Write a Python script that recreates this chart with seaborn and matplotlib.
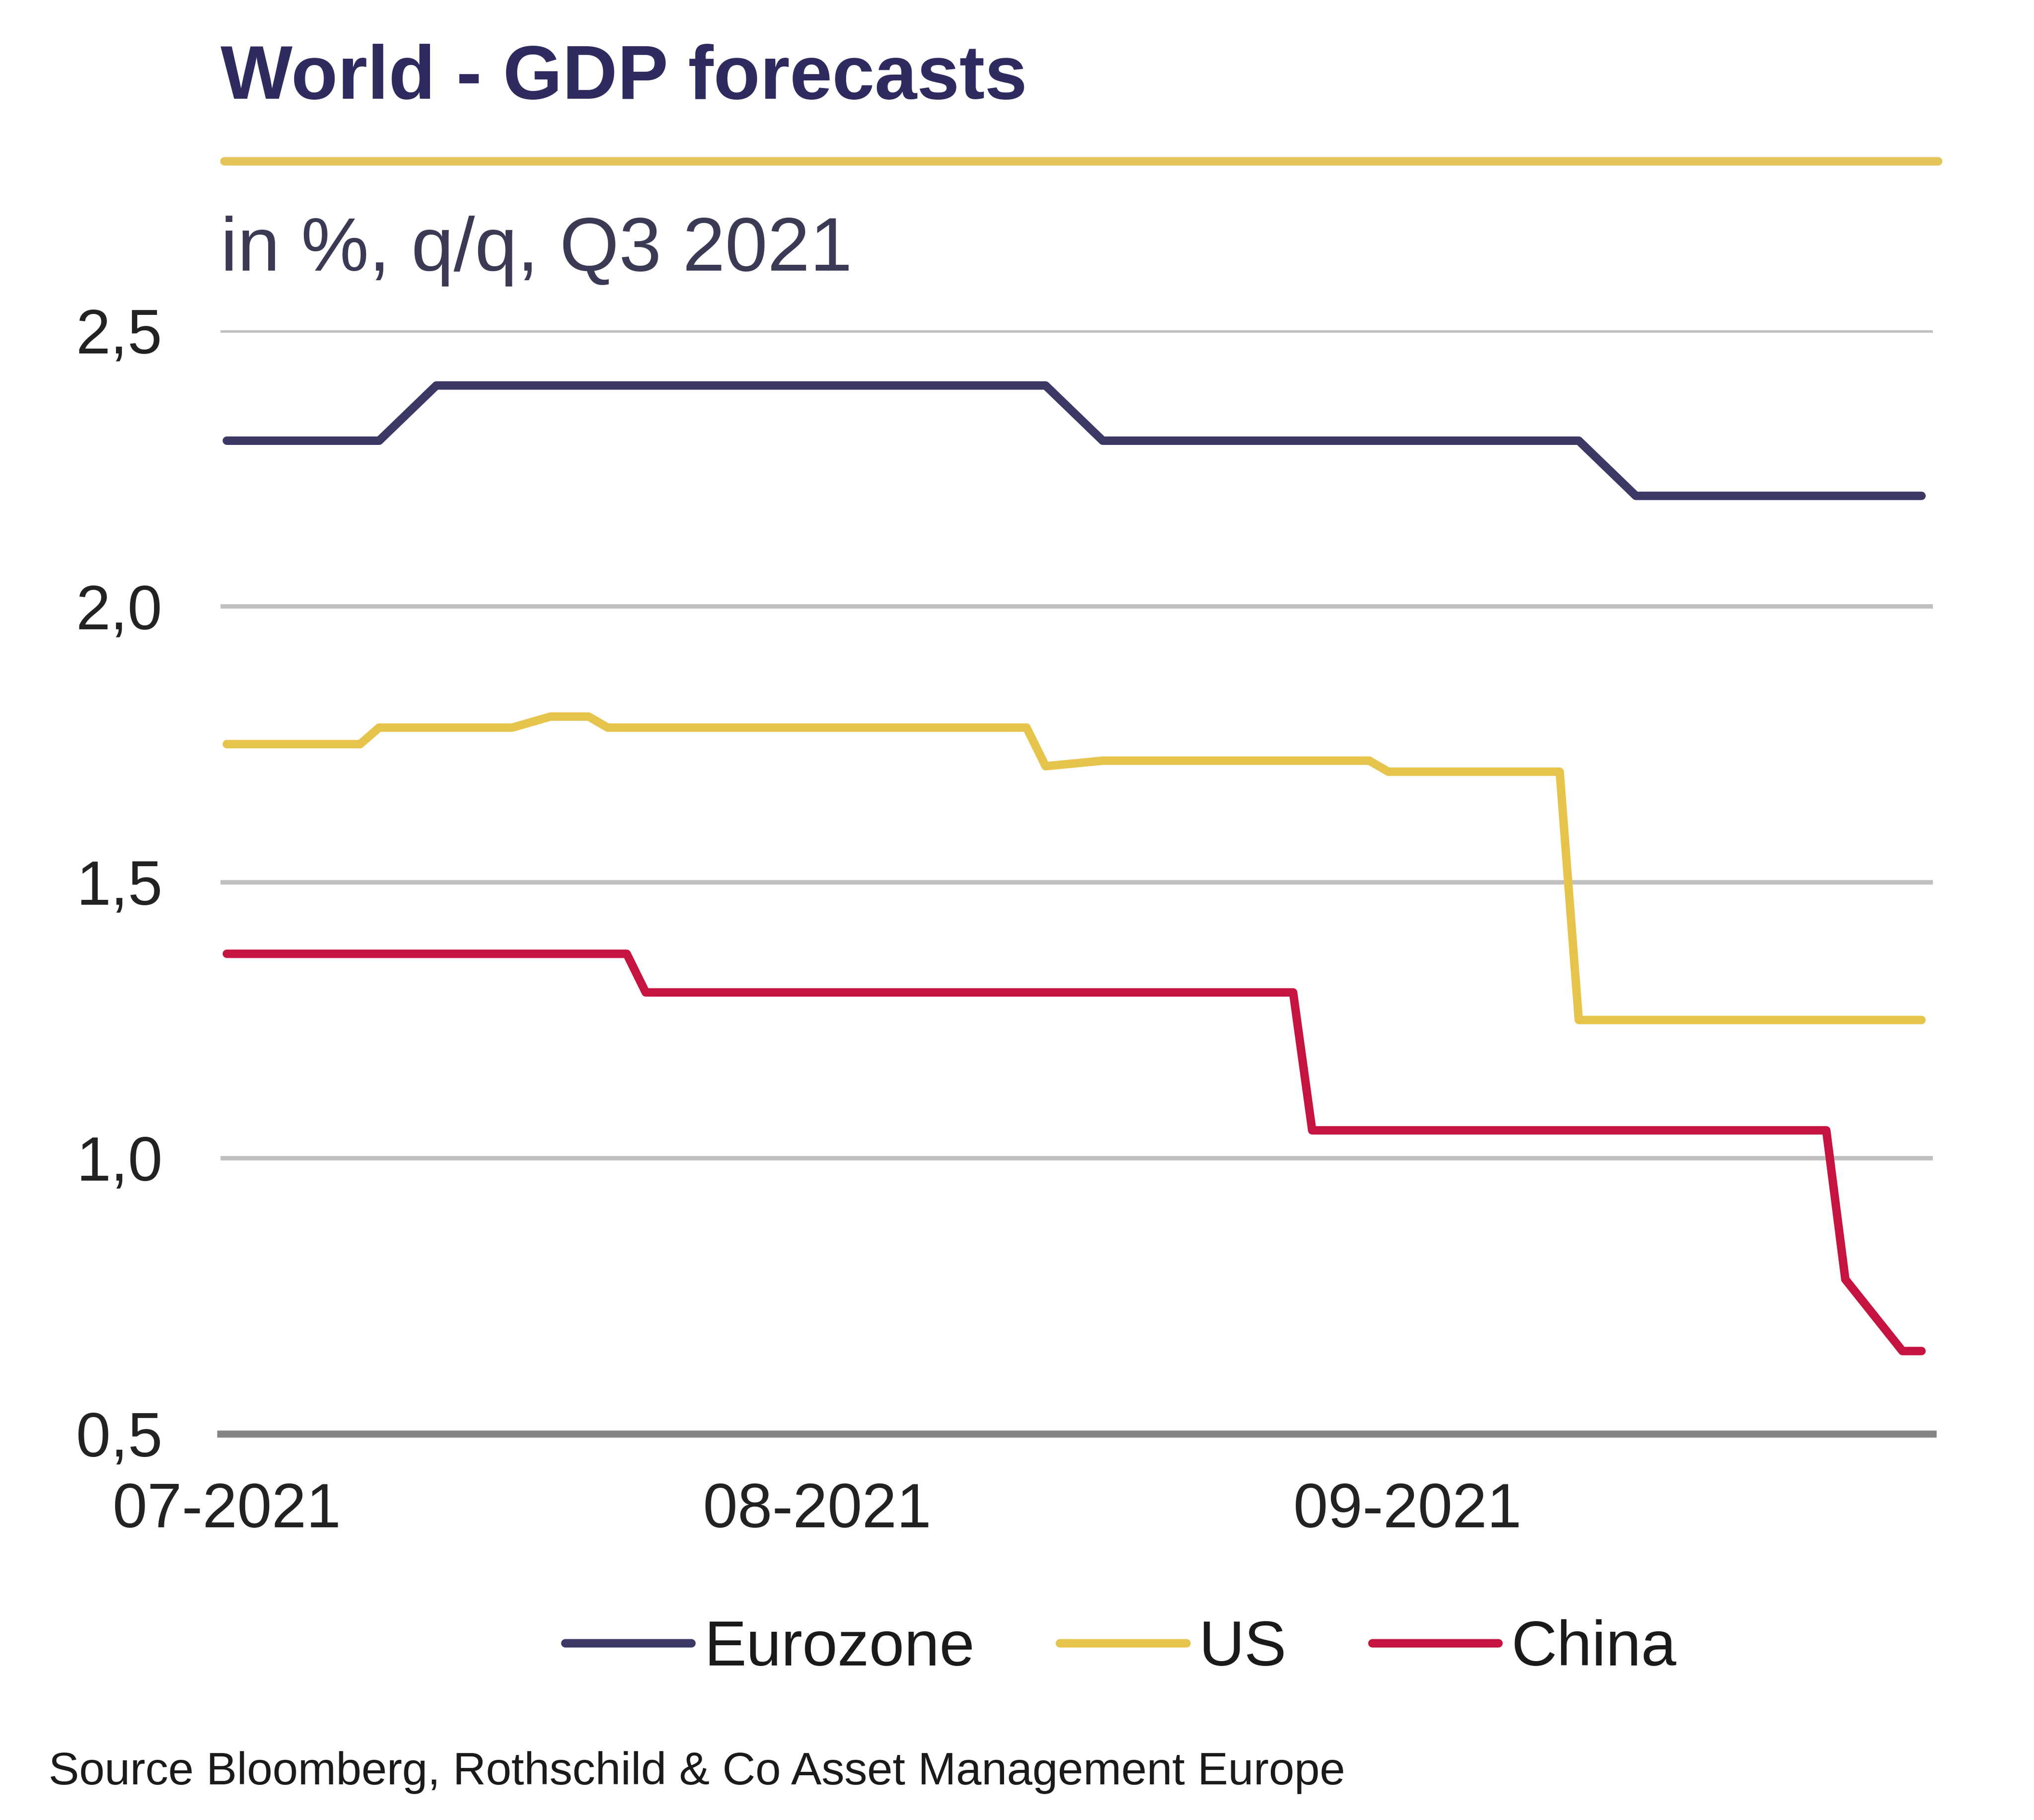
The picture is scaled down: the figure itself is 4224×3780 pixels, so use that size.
import matplotlib
matplotlib.use("Agg")
import matplotlib.pyplot as plt
import matplotlib.dates as mdates
from matplotlib.lines import Line2D
from matplotlib.ticker import FuncFormatter
import pandas as pd
import seaborn as sns

# breakpoints (value changes between them are straight lines)
eurozone_dates = ['2021-07-01', '2021-07-09', '2021-07-12', '2021-08-13', '2021-08-16',
                  '2021-09-10', '2021-09-13', '2021-09-28']
eurozone_values = [2.30, 2.30, 2.40, 2.40, 2.30, 2.30, 2.20, 2.20]

us_dates = ['2021-07-01', '2021-07-08', '2021-07-09', '2021-07-16', '2021-07-17', '2021-07-18',
            '2021-07-20', '2021-07-21', '2021-08-12', '2021-08-13', '2021-08-16', '2021-08-30',
            '2021-08-31', '2021-09-09', '2021-09-10', '2021-09-28']
us_values = [1.75, 1.75, 1.78, 1.78, 1.79, 1.80, 1.80, 1.78, 1.78, 1.71, 1.72, 1.72,
             1.70, 1.70, 1.25, 1.25]

china_dates = ['2021-07-01', '2021-07-22', '2021-07-23', '2021-08-26', '2021-08-27',
               '2021-09-23', '2021-09-24', '2021-09-27', '2021-09-28']
china_values = [1.37, 1.37, 1.30, 1.30, 1.05, 1.05, 0.78, 0.65, 0.65]

series_names = ['Eurozone', 'US', 'China']
colors = {'Eurozone': '#3b3866', 'US': '#e6c44c', 'China': '#c4143f'}

y_ticks = [0.5, 1.0, 1.5, 2.0, 2.5]
x_ticks = ['2021-07-01', '2021-08-01', '2021-09-01']

frames = []
for name, d, v in zip(series_names,
                      [eurozone_dates, us_dates, china_dates],
                      [eurozone_values, us_values, china_values]):
    frames.append(pd.DataFrame({'date': pd.to_datetime(d), 'value': v, 'series': name}))
df = pd.concat(frames, ignore_index=True)

sns.set_style("white")
plt.rcParams['font.family'] = ['Liberation Sans', 'DejaVu Sans']

fig = plt.figure(figsize=(14.08, 12.6), dpi=300)
ax = fig.add_axes([0.1084, 0.2122, 0.9503 - 0.1084, 0.8185 - 0.2122])

sns.lineplot(data=df, x='date', y='value', hue='series', hue_order=series_names,
             palette=colors, linewidth=4.2, ax=ax,
             solid_joinstyle='round', solid_capstyle='round')

start = pd.Timestamp('2021-07-01')
ax.set_xlim(start - pd.Timedelta(hours=8), start + pd.Timedelta(days=89.6))
ax.set_ylim(0.5, 2.5)
ax.set_xticks(pd.to_datetime(x_ticks))
ax.xaxis.set_major_formatter(mdates.DateFormatter('%m-%Y'))
ax.set_yticks(y_ticks)
ax.yaxis.set_major_formatter(FuncFormatter(lambda v, p: f"{v:.1f}".replace('.', ',')))
ax.set_xlabel('')
ax.set_ylabel('')

ax.yaxis.grid(True, color='#c0c0c0', linewidth=2.2)
ax.xaxis.grid(False)
for s in ['top', 'right', 'left']:
    ax.spines[s].set_visible(False)
ax.spines['bottom'].set_color('#858585')
ax.spines['bottom'].set_linewidth(3.5)
ax.tick_params(axis='both', length=0, labelsize=31, colors='#222222')
ax.tick_params(axis='y', pad=29)
ax.tick_params(axis='x', pad=24)

sns.move_legend(ax, 'center', bbox_to_anchor=(0.551, 0.094), bbox_transform=fig.transFigure,
                ncol=3, frameon=False, title=None, fontsize=31.5, handlelength=2.0,
                handletextpad=0.2, columnspacing=1.35)
for t in ax.get_legend().get_texts():
    t.set_color('#1a1a1a')
for h in ax.get_legend().legend_handles:
    h.set_linewidth(4.2)

fig.text(0.1084, 0.9458, 'World - GDP forecasts', fontsize=38, fontweight='bold',
         color='#2e2b5f', ha='left', va='baseline')
fig.add_artist(Line2D([0.1103, 0.9529], [0.9114, 0.9114], transform=fig.transFigure,
                      color='#e3c55a', linewidth=4.2))
fig.text(0.1084, 0.8512, 'in %, q/q, Q3 2021', fontsize=38, color='#3b3a55',
         ha='left', va='baseline')
fig.text(0.024, 0.0196, 'Source Bloomberg, Rothschild & Co Asset Management Europe',
         fontsize=22.8, color='#1a1a1a', ha='left', va='baseline')

fig.savefig('out.png', dpi=300, facecolor='white')
